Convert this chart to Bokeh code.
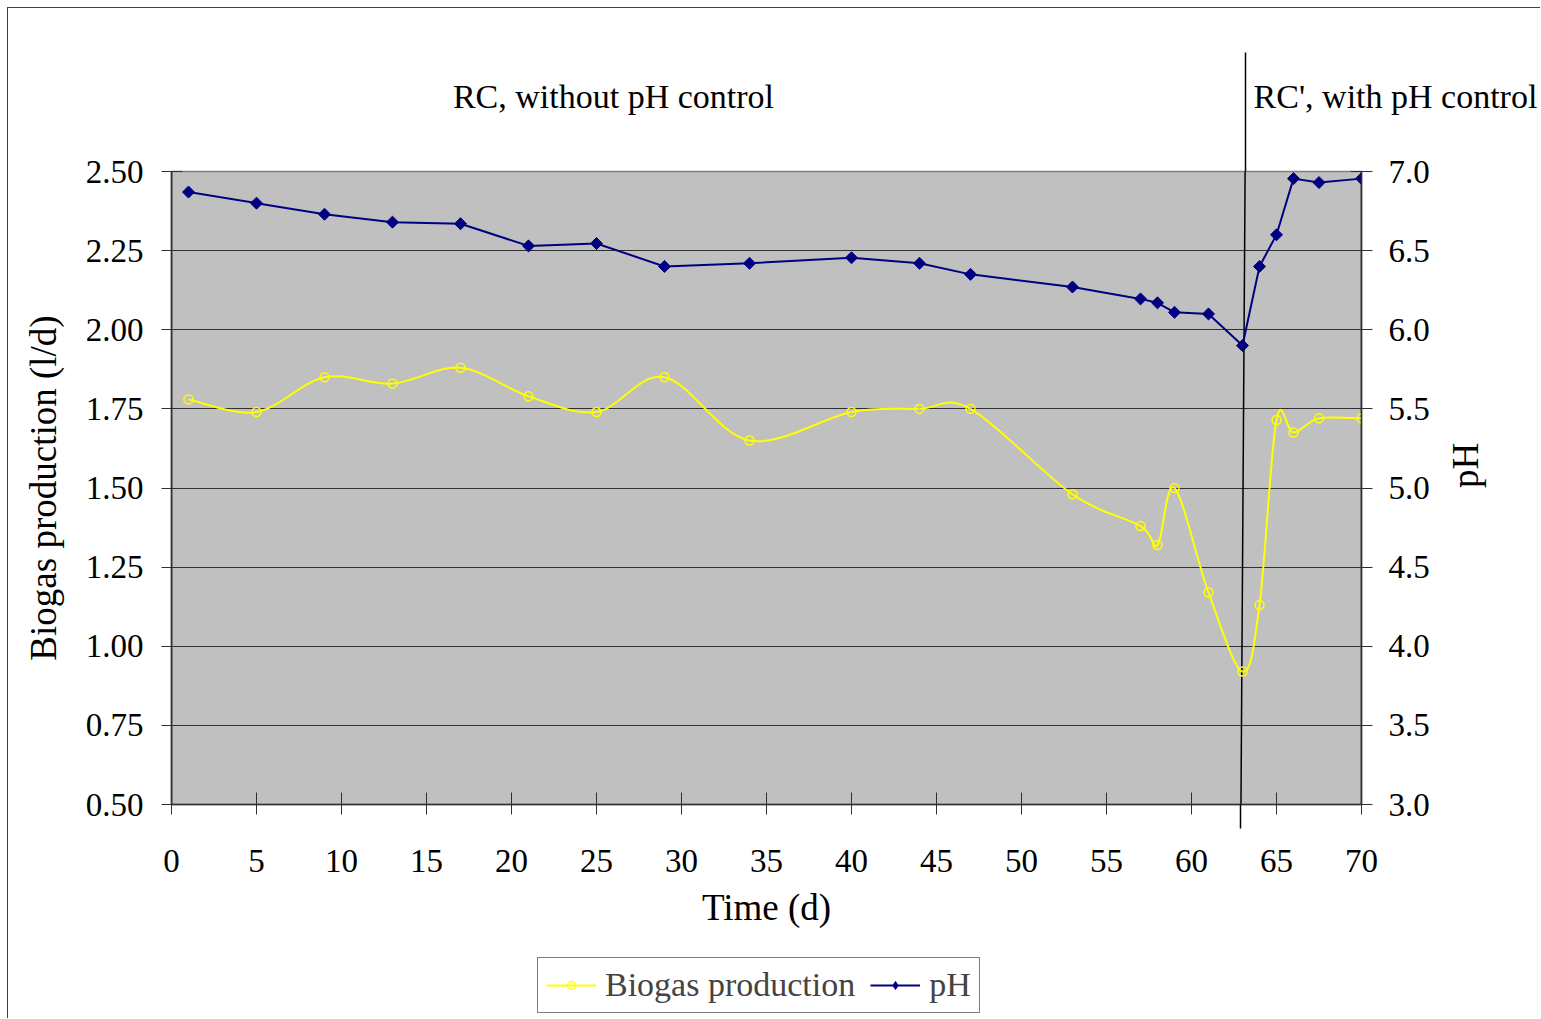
import math
from bokeh.plotting import figure
from bokeh.layouts import column
from bokeh.models import (Range1d, LinearAxis, FixedTicker, NumeralTickFormatter,
                          Legend, LegendItem)
from bokeh.embed import file_html
from bokeh.resources import INLINE

# ---------------- data ----------------
days = [1, 5, 9, 13, 17, 21, 25, 29, 34, 40, 44, 47, 53, 57, 58, 59, 61, 63, 64, 65, 66, 67.5, 70]
biogas = [1.78, 1.74, 1.85, 1.83, 1.88, 1.79, 1.74, 1.85, 1.65, 1.74, 1.75, 1.75, 1.48,
          1.38, 1.32, 1.50, 1.17, 0.92, 1.13, 1.715, 1.675, 1.72, 1.72]
ph = [6.87, 6.80, 6.73, 6.68, 6.67, 6.53, 6.545, 6.40, 6.42, 6.455, 6.42, 6.35, 6.27,
      6.195, 6.17, 6.11, 6.10, 5.90, 6.40, 6.60, 6.955, 6.93, 6.955]
time_ticks = [0, 5, 10, 15, 20, 25, 30, 35, 40, 45, 50, 55, 60, 65, 70]
bio_ticks = [0.50, 0.75, 1.00, 1.25, 1.50, 1.75, 2.00, 2.25, 2.50]
ph_ticks = [3.0, 3.5, 4.0, 4.5, 5.0, 5.5, 6.0, 6.5, 7.0]
divider_day = [63.2, 62.9]          # top, bottom end of the phase divider
phase_labels = ["RC, without pH control", "RC', with pH control"]
phase_label_day = [26, 70]          # anchor of each phase label
series_names = ["Biogas production", "pH"]

# ---------------- layout (page pixels) ----------------
OFF = 8                              # layout sits 8px from the page corner
FIG_W, FIG_H = 1533, 1011
AREA_LEFT, AREA_RIGHT = 171, 1361    # x = 0 .. 70
AREA_TOP, AREA_BOTTOM = 171, 804     # y = 2.5 .. 0.5
MAIN_BOTTOM = 946                    # page y where the main chart ends
DIV_TOP, DIV_BOTTOM = 52, 828        # page y of the divider ends
LEG_LEFT, LEG_TOP, LEG_H = 537, 958, 55
X0, X1 = 0, 70
Y0, Y1 = 0.5, 2.5
P0, P1 = 3.0, 7.0

ppu = (AREA_BOTTOM - AREA_TOP) / (Y1 - Y0)


def ypix(page_y):
    return Y1 - (page_y - AREA_TOP) / ppu


def div_x_at(page_y):
    t = (page_y - DIV_TOP) / (DIV_BOTTOM - DIV_TOP)
    return divider_day[0] + t * (divider_day[1] - divider_day[0])


FONT = "Liberation Serif"
AXC = "#303030"
BIO_C, PH_C = "#FFFF00", "#000080"

p = figure(frame_width=AREA_RIGHT - AREA_LEFT, frame_height=AREA_BOTTOM - AREA_TOP,
           min_border_left=AREA_LEFT - OFF, min_border_top=AREA_TOP - OFF,
           min_border_right=FIG_W - (AREA_RIGHT - OFF),
           min_border_bottom=MAIN_BOTTOM - AREA_BOTTOM,
           x_range=Range1d(X0, X1), y_range=Range1d(Y0, Y1),
           output_backend="svg", toolbar_location=None,
           background_fill_color="#C0C0C0", border_fill_color="white",
           outline_line_color="#808080", outline_line_width=1.5)
p.extra_y_ranges = {"ph": Range1d(P0, P1)}

# frame edges (left/right axis lines)
p.segment(x0=[X0, X1], y0=[Y0, Y0], x1=[X0, X1], y1=[Y1, Y1], line_color=AXC, line_width=1.5)

# grid
p.xgrid.visible = False
p.ygrid.ticker = FixedTicker(ticks=bio_ticks[1:-1])
p.ygrid.grid_line_color = AXC
p.ygrid.grid_line_width = 1

# x axis (with the lower end of the divider as a long minor tick)
xa = p.xaxis[0]
xa.ticker = FixedTicker(ticks=time_ticks, minor_ticks=[div_x_at(AREA_BOTTOM)])
xa.axis_line_color = AXC
xa.axis_line_width = 1.5
xa.major_tick_line_color = AXC
xa.major_tick_in = 12
xa.major_tick_out = 10
xa.minor_tick_line_color = "black"
xa.minor_tick_line_width = 1.5
xa.minor_tick_in = 0
xa.minor_tick_out = DIV_BOTTOM - AREA_BOTTOM
xa.major_label_standoff = 21
xa.major_label_text_font = FONT
xa.major_label_text_font_size = "33px"
xa.major_label_text_color = "black"
xa.axis_label = "Time (d)"
xa.axis_label_text_font = FONT
xa.axis_label_text_font_size = "37px"
xa.axis_label_text_font_style = "normal"
xa.axis_label_text_color = "black"
xa.axis_label_standoff = 12

# left y axis
ya = p.yaxis[0]
ya.ticker = FixedTicker(ticks=bio_ticks)
ya.formatter = NumeralTickFormatter(format="0.00")
ya.axis_line_color = AXC
ya.axis_line_width = 1.5
ya.major_tick_line_color = AXC
ya.major_tick_in = 11
ya.major_tick_out = 10
ya.minor_tick_line_color = None
ya.major_label_standoff = 18
ya.major_label_text_font = FONT
ya.major_label_text_font_size = "33px"
ya.major_label_text_color = "black"
ya.axis_label = "Biogas production (l/d)"
ya.axis_label_text_font = FONT
ya.axis_label_text_font_size = "37px"
ya.axis_label_text_font_style = "normal"
ya.axis_label_text_color = "black"
ya.axis_label_standoff = 19

# right y axis (pH)
ra = LinearAxis(y_range_name="ph", ticker=FixedTicker(ticks=ph_ticks),
                formatter=NumeralTickFormatter(format="0.0"))
ra.axis_line_color = AXC
ra.axis_line_width = 1.5
ra.major_tick_line_color = AXC
ra.major_tick_in = 11
ra.major_tick_out = 11
ra.minor_tick_line_color = None
ra.major_label_standoff = 16
ra.major_label_text_font = FONT
ra.major_label_text_font_size = "33px"
ra.major_label_text_color = "black"
ra.axis_label = "pH"
ra.axis_label_orientation = math.pi / 2
ra.axis_label_text_font = FONT
ra.axis_label_text_font_size = "37px"
ra.axis_label_text_font_style = "normal"
ra.axis_label_text_color = "black"
ra.axis_label_standoff = 33
p.add_layout(ra, "right")

# top axis: phase labels + upper end of the divider (minor tick)
NBSP = "\u00a0"
ta = LinearAxis(ticker=FixedTicker(ticks=phase_label_day, minor_ticks=[div_x_at(AREA_TOP)]))
ta.major_label_overrides = {phase_label_day[0]: phase_labels[0],
                            phase_label_day[1]: NBSP * 8 + phase_labels[1]}
ta.axis_line_color = None
ta.major_tick_line_color = None
ta.major_tick_in = 0
ta.major_tick_out = 0
ta.minor_tick_line_color = "black"
ta.minor_tick_line_width = 1.5
ta.minor_tick_in = 0
ta.minor_tick_out = AREA_TOP - DIV_TOP
ta.major_label_standoff = -62
ta.major_label_text_font = FONT
ta.major_label_text_font_size = "34px"
ta.major_label_text_color = "black"
p.add_layout(ta, "above")

# divider line inside the plot area
p.line(divider_day, [ypix(DIV_TOP), ypix(DIV_BOTTOM)], line_color="black", line_width=1.5)

# biogas smoothed curve (Excel-style Catmull-Rom Bezier)
n = len(days)
bx0, by0, bx1, by1, cx0, cy0, cx1, cy1 = [], [], [], [], [], [], [], []
for i in range(n - 1):
    im = i - 1 if i > 0 else i
    ip = i + 2 if i + 2 < n else i + 1
    bx0.append(days[i]); by0.append(biogas[i])
    bx1.append(days[i + 1]); by1.append(biogas[i + 1])
    cx0.append(days[i] + (days[i + 1] - days[im]) / 6)
    cy0.append(biogas[i] + (biogas[i + 1] - biogas[im]) / 6)
    cx1.append(days[i + 1] - (days[ip] - days[i]) / 6)
    cy1.append(biogas[i + 1] - (biogas[ip] - biogas[i]) / 6)
p.bezier(x0=bx0, y0=by0, x1=bx1, y1=by1, cx0=cx0, cy0=cy0, cx1=cx1, cy1=cy1,
         line_color=BIO_C, line_width=2)
p.scatter(days, biogas, marker="circle", size=9, fill_color=None,
          line_color=BIO_C, line_width=1.5)

# pH
p.line(days, ph, y_range_name="ph", line_color=PH_C, line_width=2)
p.scatter(days, ph, y_range_name="ph", marker="square", angle=math.pi / 4,
          size=8.5, fill_color=PH_C, line_color=PH_C)

# ---------------- legend strip below the chart ----------------
LEG_FIG_H = FIG_H - (MAIN_BOTTOM - OFF)
LEG_X_SHIFT = 163                    # measured offset of the legend strip's frame
q = figure(width=FIG_W, height=LEG_FIG_H, x_range=Range1d(0, 1), y_range=Range1d(0, 1),
           x_axis_location=None, y_axis_location=None, output_backend="svg",
           toolbar_location=None, min_border=0, min_border_left=0, min_border_right=0,
           min_border_top=0, min_border_bottom=0, outline_line_color=None,
           background_fill_color="white", border_fill_color="white")
q.xgrid.visible = False
q.ygrid.visible = False
off_x, off_y = [-5], [-5]            # proxies kept outside the visible range
lg_bio_line = q.line(off_x, off_y, line_color=BIO_C, line_width=2)
lg_bio_pts = q.scatter(off_x, off_y, marker="circle", size=9, fill_color=None,
                       line_color=BIO_C, line_width=1.5)
lg_ph_line = q.line(off_x, off_y, line_color=PH_C, line_width=2)
lg_ph_pts = q.scatter(off_x, off_y, marker="diamond", size=13,
                      fill_color=PH_C, line_color=PH_C)
legend = Legend(items=[LegendItem(label=series_names[0], renderers=[lg_bio_line, lg_bio_pts]),
                       LegendItem(label=series_names[1], renderers=[lg_ph_line, lg_ph_pts])],
                orientation="horizontal",
                location=(LEG_LEFT - OFF - LEG_X_SHIFT,
                          LEG_FIG_H - (LEG_TOP - MAIN_BOTTOM) - LEG_H),
                border_line_color="black", border_line_width=1,
                background_fill_color="white", background_fill_alpha=1,
                label_text_font=FONT, label_text_font_size="34px",
                glyph_width=50, glyph_height=20, label_standoff=9, spacing=15,
                padding=8, margin=0)
q.add_layout(legend, "center")

layout = column(p, q, spacing=0,
                styles={"margin-left": "8px", "margin-top": "8px",
                        "box-shadow": "-1px -1px 0 0 #404040"})

open("out.html", "w").write(file_html(layout, INLINE))
